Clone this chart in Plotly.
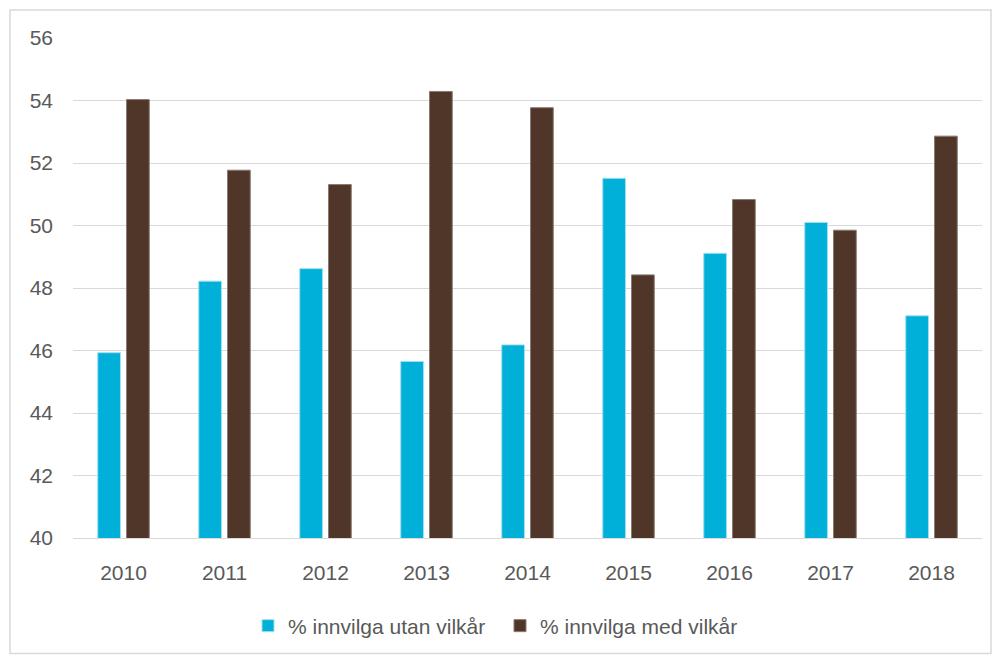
import plotly.graph_objects as go

years = ["2010", "2011", "2012", "2013", "2014", "2015", "2016", "2017", "2018"]
utan = [45.93, 48.22, 48.62, 45.65, 46.18, 51.51, 49.11, 50.1, 47.11]
med = [54.03, 51.77, 51.31, 54.29, 53.77, 48.42, 50.83, 49.85, 52.86]
yticks = [40, 42, 44, 46, 48, 50, 52, 54, 56]

FONT = "Liberation Sans"
GRAY = "#595959"

# page body has an 8px margin; figure coordinates are page minus 8
W, H = 992, 651
L, T = 65, 30          # plot left/top in figure coords
R_EDGE, B_EDGE = 974, 532
PW, PH = R_EDGE - L, B_EDGE - T

fig = go.Figure()
fig.add_trace(go.Bar(x=years, y=utan, name="% innvilga utan vilkår",
                     marker=dict(color="#00B0D8", line=dict(color="#9fe0f0", width=1))))
fig.add_trace(go.Bar(x=years, y=med, name="% innvilga med vilkår",
                     marker=dict(color="#4F3629", line=dict(color="#8a7a72", width=1))))

fig.update_layout(
    width=W, height=H,
    margin=dict(l=L, r=W - R_EDGE, t=T, b=H - B_EDGE),
    paper_bgcolor="white", plot_bgcolor="white",
    barmode="group", bargap=0.43, bargroupgap=0.21,
    font=dict(family=FONT, color=GRAY, size=21),
    showlegend=True,
    legend=dict(orientation="h", x=(492 - L) / PW, xanchor="center", y=-0.135, yanchor="top",
                font=dict(family=FONT, size=21, color=GRAY), itemwidth=30,
                entrywidth=207, entrywidthmode="pixels",
                traceorder="normal", tracegroupgap=0),
    xaxis=dict(showgrid=False, showline=True, linecolor="#d9d9d9", linewidth=1,
               ticks="", ticklabelstandoff=16,
               tickfont=dict(family=FONT, size=21, color=GRAY)),
    yaxis=dict(range=[40, 56], tickvals=yticks, showgrid=True, gridcolor="#d9d9d9",
               gridwidth=1, zeroline=False, showline=False, ticks="",
               ticklabelstandoff=19,
               tickfont=dict(family=FONT, size=21, color=GRAY)),
    shapes=[dict(type="rect", xref="paper", yref="paper",
                 x0=(2 - L) / PW, x1=(983 - L) / PW,
                 y0=(B_EDGE - 648) / PH, y1=(B_EDGE - 2) / PH,
                 line=dict(color="#d9d9d9", width=1.5), fillcolor="rgba(0,0,0,0)",
                 layer="below")],
)

fig.write_html("out.html")
